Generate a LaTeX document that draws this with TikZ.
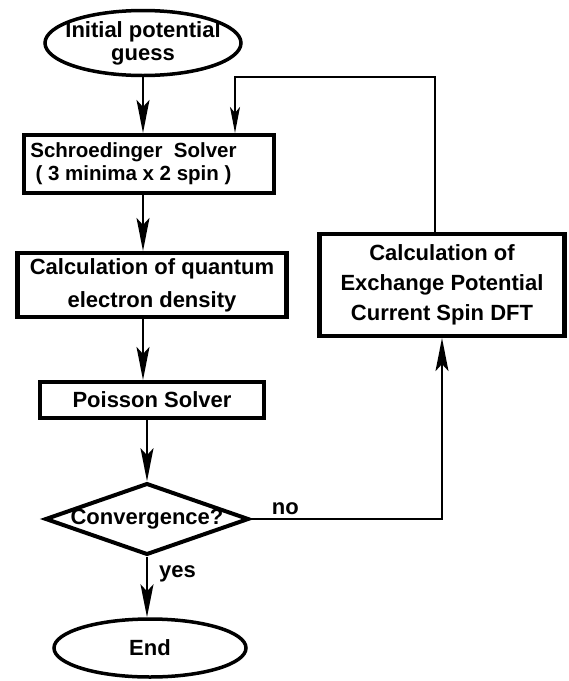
\documentclass[tikz,border=0pt]{standalone}
\usepackage{fontspec}
\setmainfont{Liberation Sans}
\usetikzlibrary{shapes.geometric,arrows.meta}

\tikzset{
	procbox/.style={draw, line width=4.2pt, rectangle, align=center, inner sep=0pt},
	terminal/.style={draw, line width=3.5pt, ellipse, align=center, inner ysep=0pt, inner xsep=-10pt},
	decision/.style={draw, line width=4pt, diamond, aspect=2.84, inner sep=0pt, inner xsep=-3pt,
		minimum width=203pt, minimum height=69pt},
	flow/.style={line width=1.7pt, -{Stealth[length=33pt,width=13pt,inset=7pt]}},
	back/.style={line width=1.3pt, -{Stealth[length=26pt,width=10pt,inset=6pt]}}
}

\begin{document}
\begin{tikzpicture}[x=1pt,y=-1pt,font=\bfseries\fontsize{22}{23}\selectfont]
		\useasboundingbox (0,0) rectangle (569,681);
		% main column
		\node[terminal, minimum width=196pt, minimum height=65pt] (init) at (143,43) {Initial potential\\guess};
		\node[procbox, minimum width=250pt, minimum height=58pt, font=\bfseries\fontsize{20.5}{23}\selectfont] (schr) at (149,164)
			{\hspace*{-31pt}Schroedinger~~Solver\\\hspace*{-31pt}( 3 minima x 2 spin )};
		\node[procbox, minimum width=269pt, minimum height=64pt] (dens) at (152,285) {Calculation of quantum\\[10pt]electron density};
		\node[procbox, minimum width=224pt, minimum height=36pt] (pois) at (152,400) {Poisson Solver};
		\node[decision] (conv) at (147,519) {Convergence?};
		\node[terminal, minimum width=192pt, minimum height=58pt] (end) at (150,648) {End};
		% exchange box on the right
		\node[procbox, minimum width=245pt, minimum height=102pt] (exch) at (442,285)
			{Calculation of\\[7pt]Exchange Potential\\[7pt]Current Spin DFT};
		\coordinate (loop) at (435,77);
		% connectors
		\draw[flow] (init.south) -- (init.south |- schr.north);
		\draw[flow] (schr.south -| init.south) -- (dens.north -| init.south);
		\draw[flow] (dens.south -| init.south) -- (pois.north -| init.south);
		\draw[flow] (pois.south -| conv.north) -- (conv.north);
		\draw[flow] (conv.south) -- node[pos=0.28, right=8pt]{yes} (conv.south |- end.north);
		\draw[flow] (conv.east) -| node[pos=0.09, above]{no} (exch.south);
		\draw[back] (exch.north -| loop) -- (loop) -| ([xshift=86pt]schr.north);
	\end{tikzpicture}
\end{document}
